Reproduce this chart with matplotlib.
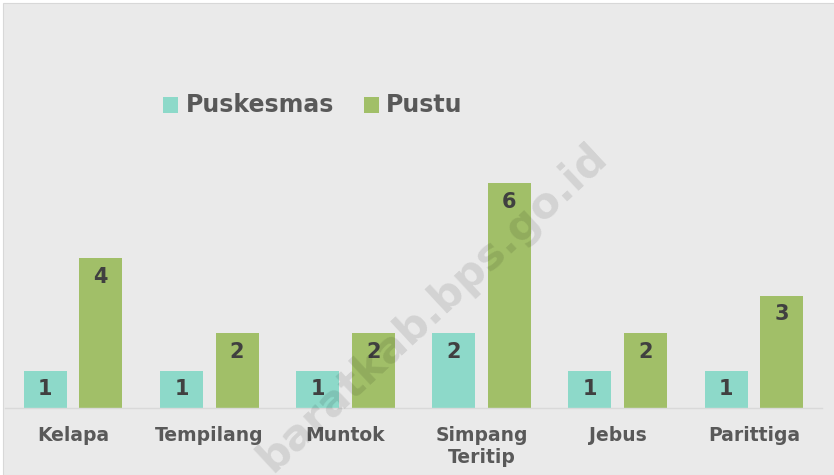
import matplotlib
matplotlib.use("Agg")
import matplotlib.pyplot as plt
import numpy as np
from matplotlib.patches import Rectangle

categories = ["Kelapa", "Tempilang", "Muntok", "Simpang\nTeritip", "Jebus", "Parittiga"]
puskesmas = [1, 1, 1, 2, 1, 1]
pustu = [4, 2, 2, 6, 2, 3]
series_names = ["Puskesmas", "Pustu"]

teal = "#8dd9c9"
green = "#a1bf68"
bg = "#eaeaea"
fam = "DejaVu Sans"

W, H = 834, 475
fig = plt.figure(figsize=(W / 100, H / 100), dpi=100, facecolor="white")
fig.patches.append(Rectangle((3 / W, 0), 1, 1 - 3 / H, transform=fig.transFigure,
                             facecolor=bg, edgecolor="#d8d8d8", lw=0.8, zorder=-5))

ax = fig.add_axes([5 / W, (H - 408) / H, 817 / W, 262.5 / H])
ax.set_facecolor("none")
ax.set_zorder(1)
x = np.arange(len(categories))
w = 0.316
off = 0.204
b1 = ax.bar(x - off, puskesmas, w, color=teal, zorder=2)
b2 = ax.bar(x + off, pustu, w, color=green, zorder=2)
ax.set_xlim(-0.5, 5.5)
ax.set_ylim(0, 7)
for s in ["top", "right", "left"]:
    ax.spines[s].set_visible(False)
ax.spines["bottom"].set_color("#d9d9d9")
ax.spines["bottom"].set_linewidth(1)
ax.set_yticks([])
ax.set_xticks(x)
ax.set_xticklabels(categories, fontsize=13.5, fontweight="bold", color="#595959",
                   family=fam, linespacing=1.2)
ax.tick_params(axis="x", length=0, pad=13)

for bars, vals in ((b1, puskesmas), (b2, pustu)):
    for r, v in zip(bars, vals):
        ax.text(r.get_x() + r.get_width() / 2, v - 0.5, str(v), ha="center", va="center",
                fontsize=15, fontweight="bold", color="#404040", family=fam, zorder=3)

# legend
leg_y = 1 - 105 / H
for sx, tx, name, col in ((163, 186, series_names[0], teal), (364, 386, series_names[1], green)):
    fig.patches.append(Rectangle((sx / W, leg_y - 8 / H), 15 / W, 16 / H,
                                 transform=fig.transFigure, facecolor=col, edgecolor="none"))
    fig.text(tx / W, leg_y, name, fontsize=17, fontweight="bold", color="#595959",
             family=fam, va="center", ha="left")

# watermark
fig.text(432 / W, 1 - 308 / H, "baratkab.bps.go.id", fontsize=31, fontweight="bold",
         color="black", alpha=0.1, rotation=43, ha="center", va="center",
         family=fam, zorder=10)

fig.savefig("out.png", dpi=100, facecolor="white")
